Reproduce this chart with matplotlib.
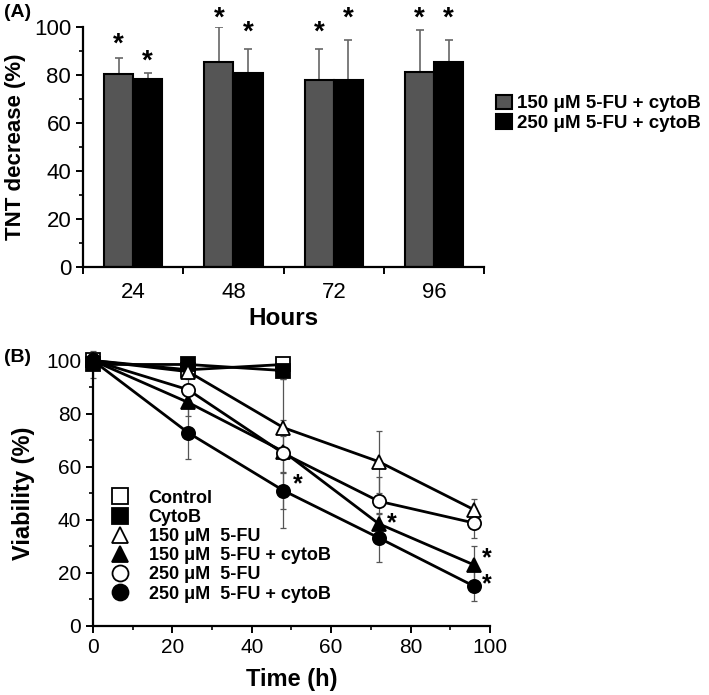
import numpy as np
import matplotlib
matplotlib.use("Agg")
import matplotlib.pyplot as plt
from matplotlib.lines import Line2D
from matplotlib.patches import Patch

plt.rcParams["font.family"] = ["Liberation Sans", "DejaVu Sans"]

# ---- panel A: TNT decrease ----
hours = ["24", "48", "72", "96"]
tnt_150 = [80.4, 85.4, 77.9, 81.3]
tnt_150_err = [6.6, 14.6, 12.9, 17.7]
tnt_250 = [78.3, 80.8, 77.9, 85.4]
tnt_250_err = [2.7, 10.0, 16.7, 9.2]
star_150 = [95, 106, 100, 106]
star_250 = [88, 100, 106, 106]

# ---- panel B: viability ----
t_ctrl = [0, 24, 48]
control = [100, 96.5, 98.5]
control_err = [1, 1.5, 1.5]
cytob = [98.5, 98.5, 96.2]
cytob_err = [5, 1, 3]
t_all = [0, 24, 48, 72, 96]
fu150 = [100, 95.8, 74.7, 61.9, 43.8]
fu150_err = [1, 2, 3, 11.7, 4]
fu150_cyto = [100, 84.2, 65.7, 38.5, 23]
fu150_cyto_err = [1, 5, 8, 4, 7]
fu250 = [100, 89, 65, 47, 38.8]
fu250_err = [1, 4, 28, 9, 5.8]
fu250_cyto = [100, 72.8, 51, 33.2, 15]
fu250_cyto_err = [1, 10, 7, 9, 5.6]
stars_b_x = [51.5, 75.3, 99.3, 99.3]
stars_b_y = [55.5, 40.8, 27.5, 17.7]

fig = plt.figure(figsize=(7.09, 6.95), dpi=100)


def style_axes(ax, tick_fs):
    for s in ("top", "right"):
        ax.spines[s].set_visible(False)
    for s in ("left", "bottom"):
        ax.spines[s].set_linewidth(1.6)
    ax.tick_params(which="major", direction="out", length=5, width=1.4,
                   labelsize=tick_fs)
    ax.tick_params(which="minor", direction="out", length=3, width=1.2)


# panel A
axA = fig.add_axes([0.117, 0.616, 0.566, 0.345])
x = np.arange(len(hours))
w = 0.29
axA.bar(x - w / 2, tnt_150, w, color="#555555", edgecolor="black", linewidth=1.5,
        zorder=2)
axA.bar(x + w / 2, tnt_250, w, color="black", edgecolor="black", linewidth=1.5,
        zorder=2)
axA.errorbar(x - w / 2, tnt_150, yerr=[np.zeros(4), tnt_150_err], fmt="none",
             ecolor="#666666", elinewidth=1.2, capsize=3, capthick=1.2, zorder=1)
axA.errorbar(x + w / 2, tnt_250, yerr=[np.zeros(4), tnt_250_err], fmt="none",
             ecolor="#666666", elinewidth=1.2, capsize=3, capthick=1.2, zorder=1)
# the asterisk sits high in its text box, so nudge it down a little
for xi, s1, s2 in zip(x, star_150, star_250):
    axA.text(xi - w / 2, s1 - 2.5, "*", ha="center", va="center", fontsize=20,
             fontweight="bold", clip_on=False)
    axA.text(xi + w / 2, s2 - 2.5, "*", ha="center", va="center", fontsize=20,
             fontweight="bold", clip_on=False)
axA.set_xlim(-0.5, 3.5)
axA.set_ylim(0, 100)
axA.set_yticks(np.arange(0, 101, 20))
axA.set_yticks(np.arange(10, 100, 20), minor=True)
axA.set_xticks(np.arange(-0.5, 3.6, 1.0))
axA.set_xticklabels([])
axA.set_xticks(x, minor=True)
axA.set_xticklabels(hours, minor=True)
style_axes(axA, 16)
axA.tick_params(axis="x", which="minor", length=0, pad=11, labelsize=16)
axA.set_ylabel("TNT decrease (%)", fontsize=16, fontweight="bold", labelpad=6)
axA.set_xlabel("Hours", fontsize=17.5, fontweight="bold", labelpad=3)
fig.legend(handles=[Patch(facecolor="#555555", edgecolor="black", linewidth=1.5),
                    Patch(facecolor="black", edgecolor="black", linewidth=1.5)],
           labels=["150 μM 5-FU + cytoB", "250 μM 5-FU + cytoB"],
           loc="upper left", bbox_to_anchor=(0.700, 0.864), frameon=False,
           prop={"weight": "bold", "size": 13.5}, handlelength=0.85,
           handleheight=0.85, handletextpad=0.25, labelspacing=0.1, borderpad=0,
           borderaxespad=0)

# panel B
axB = fig.add_axes([0.131, 0.0993, 0.56, 0.382])
series = [
    (t_ctrl, control, control_err, "s", "white", "Control"),
    (t_ctrl, cytob, cytob_err, "s", "black", "CytoB"),
    (t_all, fu150, fu150_err, "^", "white", "150 μM  5-FU"),
    (t_all, fu150_cyto, fu150_cyto_err, "^", "black", "150 μM  5-FU + cytoB"),
    (t_all, fu250, fu250_err, "o", "white", "250 μM  5-FU"),
    (t_all, fu250_cyto, fu250_cyto_err, "o", "black", "250 μM  5-FU + cytoB"),
]
handles = []
for tt, yy, ee, mk, fc, lab in series:
    axB.errorbar(tt, yy, yerr=ee, fmt="none", ecolor="#555555", elinewidth=0.9,
                 capsize=2.5, capthick=0.9, zorder=1, clip_on=False)
    axB.plot(tt, yy, "-", color="black", lw=2, marker=mk, markersize=9.5,
             markerfacecolor=fc, markeredgecolor="black", markeredgewidth=1.3,
             zorder=3, clip_on=False)
    handles.append(Line2D([], [], linestyle="none", marker=mk, markersize=11.5,
                          markerfacecolor=fc, markeredgecolor="black",
                          markeredgewidth=1.3, label=lab))
for sx, sy in zip(stars_b_x, stars_b_y):
    axB.text(sx, sy - 2.0, "*", ha="center", va="center", fontsize=18,
             fontweight="bold", clip_on=False)
axB.set_xlim(0, 100)
axB.set_ylim(0, 100)
axB.set_xticks(np.arange(0, 101, 20))
axB.set_xticks(np.arange(10, 100, 20), minor=True)
axB.set_yticks(np.arange(0, 101, 20))
axB.set_yticks(np.arange(10, 100, 20), minor=True)
style_axes(axB, 15)
axB.set_ylabel("Viability (%)", fontsize=17, fontweight="bold", labelpad=8)
axB.set_xlabel("Time (h)", fontsize=17, fontweight="bold", labelpad=8)
axB.legend(handles=handles, loc="upper left", bbox_to_anchor=(0.045, 0.513),
           frameon=False, prop={"weight": "bold", "size": 13}, handlelength=1.0,
           handletextpad=1.1, labelspacing=0.12, borderpad=0, borderaxespad=0)

fig.text(0.005, 0.982, "(A)", fontsize=14, fontweight="bold", va="center")
fig.text(0.005, 0.485, "(B)", fontsize=14, fontweight="bold", va="center")

fig.savefig("out.png", dpi=100)
